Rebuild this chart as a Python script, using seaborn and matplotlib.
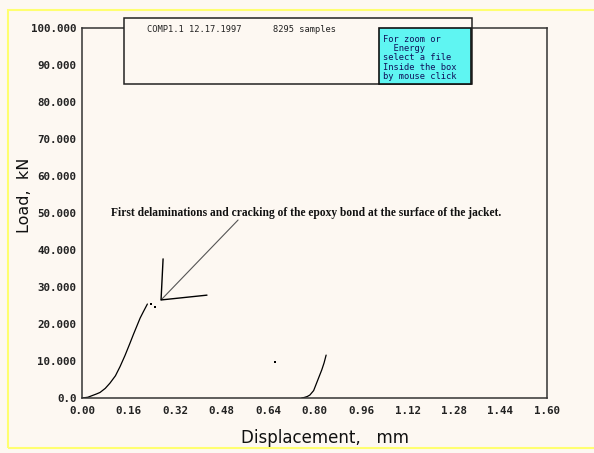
import numpy as np
import pandas as pd
import seaborn as sns
import matplotlib.pyplot as plt
from matplotlib.patches import Rectangle

# load-displacement readings (mm, kN)
curve1_x = [0.0, 0.01, 0.02, 0.03, 0.05, 0.062, 0.08, 0.096, 0.115, 0.131, 0.148, 0.165, 0.177, 0.188, 0.2, 0.211, 0.225]
curve1_y = [0.0, 0.1, 0.2, 0.5, 1.1, 1.5, 2.6, 4.0, 6.0, 8.5, 11.5, 14.8, 17.2, 19.3, 21.6, 23.3, 25.4]
curve2_x = [0.756, 0.765, 0.775, 0.784, 0.797, 0.807, 0.816, 0.825, 0.833, 0.84]
curve2_y = [0.0, 0.15, 0.4, 0.8, 2.0, 4.0, 5.8, 7.6, 9.5, 11.6]
dots_x = [0.236, 0.252, 0.664]
dots_y = [25.3, 24.7, 9.6]

x_ticks = [0.0, 0.16, 0.32, 0.48, 0.64, 0.80, 0.96, 1.12, 1.28, 1.44, 1.60]
x_ticklabels = ["0.00", "0.16", "0.32", "0.48", "0.64", "0.80", "0.96", "1.12", "1.28", "1.44", "1.60"]
y_ticks = [0, 10, 20, 30, 40, 50, 60, 70, 80, 90, 100]
y_ticklabels = ["0.0", "10.000", "20.000", "30.000", "40.000", "50.000",
                "60.000", "70.000", "80.000", "90.000", "100.000"]

note = "First delaminations and cracking of the epoxy bond at the surface of the jacket."
header = "COMP1.1 12.17.1997      8295 samples"
help_lines = ["For zoom or", "  Energy", "select a file", "Inside the box", "by mouse click"]

bg = "#fdf8f2"
sns.set_style("white")
plt.rcParams['font.family'] = ['DejaVu Sans']

fig = plt.figure(figsize=(5.94, 4.53), dpi=100, facecolor=bg)
ax = fig.add_axes([82 / 594, 55 / 453, 465 / 594, 370 / 453], facecolor=bg)

df1 = pd.DataFrame({"x": curve1_x, "y": curve1_y})
df2 = pd.DataFrame({"x": curve2_x, "y": curve2_y})
sns.lineplot(data=df1, x="x", y="y", sort=False, color="black", lw=0.9, ax=ax)
sns.lineplot(data=df2, x="x", y="y", sort=False, color="black", lw=0.9, ax=ax)
sns.scatterplot(x=dots_x, y=dots_y, color="black", s=3, marker="s", linewidth=0, ax=ax)

ax.set_xlim(0, 1.6)
ax.set_ylim(0, 100)
ax.set_xticks(x_ticks)
ax.set_xticklabels(x_ticklabels)
ax.set_yticks(y_ticks)
ax.set_yticklabels(y_ticklabels)
ax.set_xlabel("")
ax.set_ylabel("")
for lbl in ax.get_xticklabels() + ax.get_yticklabels():
    lbl.set_fontfamily("DejaVu Sans Mono")
    lbl.set_fontweight("bold")
    lbl.set_fontsize(7.8)
    lbl.set_color("#222222")
ax.tick_params(axis="x", direction="in", length=4, width=1, color="#333333", pad=6)
ax.tick_params(axis="y", direction="out", length=4, width=1, color="#333333", pad=0)
for sp in ax.spines.values():
    sp.set_color("#333333")
    sp.set_linewidth(1.1)

# annotation arrow
ax.plot([0.537, 0.272], [48.1, 26.5], color="#555555", lw=0.8)
ax.plot([0.279, 0.272, 0.430], [37.6, 26.5, 27.8], color="black", lw=1.0)
ax.text(0.771, 50.0, note, ha="center", va="center", fontsize=8.3,
        fontweight="bold", family="Liberation Serif", color="#111111")

# header boxes
fig.patches.append(Rectangle((124 / 594, 369 / 453), 348 / 594, 66 / 453, transform=fig.transFigure,
                             facecolor=bg, edgecolor="#222222", lw=1.1, zorder=5))
fig.patches.append(Rectangle((379 / 594, 369 / 453), 92 / 594, 56 / 453, transform=fig.transFigure,
                             facecolor="#5ff5f2", edgecolor="#111111", lw=1.2, zorder=6))
fig.text(147 / 594, 1 - 29 / 453, header, ha="left", va="center", fontsize=6.3,
         family="DejaVu Sans Mono", color="#222222", zorder=7)
for i, line in enumerate(help_lines):
    fig.text(383 / 594, 1 - (39 + i * 9.4) / 453, line, ha="left", va="center", fontsize=6.3,
             family="DejaVu Sans Mono", color="#10105a", zorder=7)

# axis labels
fig.text(325 / 594, 1 - 438 / 453, "Displacement,   mm", ha="center", va="center", fontsize=12, color="#111111")
fig.text(25 / 594, 1 - 195 / 453, "Load,  kN", ha="center", va="center", rotation=90, fontsize=11.5, color="#111111")

# yellow frame
fig.patches.append(Rectangle((8 / 594, 5 / 453), 600 / 594, 438 / 453, transform=fig.transFigure,
                             facecolor="none", edgecolor="#ffff70", lw=1.5, zorder=1))

fig.savefig("out.png", dpi=100, facecolor=bg)
